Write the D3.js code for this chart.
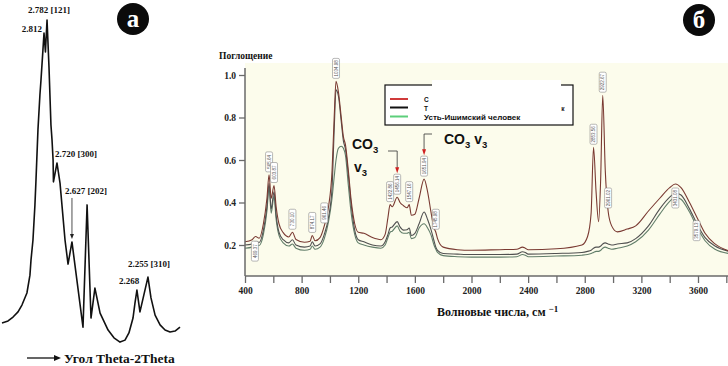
<!DOCTYPE html>
<html lang="ru">
<head>
<meta charset="UTF-8">
<title>XRD / IR</title>
<script src="https://cdn.jsdelivr.net/npm/d3@7/dist/d3.min.js"></script>
<style>
  body { margin: 0; background: #fff; }
  svg { display: block; }
  .serif { font-family: "Liberation Serif", "DejaVu Serif", serif; font-weight: bold; fill: #111; }
  .sans { font-family: "Liberation Sans", Arial, sans-serif; font-weight: bold; fill: #111; }
  .axis path, .axis line { stroke: #6a6a6a; stroke-width: 1.3; }
  .axis text { font-family: "Liberation Serif", serif; font-weight: bold; font-size: 9.5px; fill: #222; }
  .xrd-line { fill: none; stroke: #111; stroke-width: 1.6; stroke-linejoin: round; }
  .ir-line { fill: none; stroke-width: 1.1; }
  .pk-box { fill: #fff; stroke: #8a8a8a; stroke-width: 0.6; }
  .pk-text { font-family: "Liberation Sans", sans-serif; font-size: 4.5px; fill: #555; }
</style>
</head>
<body>
<svg width="728" height="366"></svg>
<script>
// panel a - XRD pattern (2theta, relative intensity)
var xrdTheta = [30.00, 30.34, 30.62, 30.90, 31.12, 31.40, 31.57, 31.63, 31.74, 31.85, 31.91, 32.02, 32.13, 32.19, 32.30,
  32.36, 32.44, 32.53, 32.64, 32.75, 32.81, 32.87, 32.89, 33.09, 33.26, 33.54, 33.71, 33.93, 34.55, 34.78, 35.00,
  35.22, 35.51, 35.96, 36.29, 36.63, 36.91, 37.13, 37.36, 37.47, 37.58, 37.75, 38.20, 38.37, 38.60, 38.88, 39.16,
  39.44, 39.72, 40.00];
var xrdIntensity = [6.8, 7.4, 8.6, 10.2, 12.3, 16.0, 21.5, 26.2, 32.3, 43.1, 50.8, 66.2, 76.9, 81.5, 90.8,
  96.0, 90.2, 100, 85.5, 67.7, 63.1, 56.9, 50.2, 56.0, 49.8, 32.3, 24.9, 31.7, 5.5, 43.1, 8.3,
  17.5, 9.8, 4.6, 2.2, 0.9, 1.5, 3.7, 8.3, 12.9, 16.9, 10.2, 20.9, 14.5, 9.2, 6.2, 4.6,
  4.0, 4.3, 5.5];
var xrdPeakTheta = [32.36, 32.53, 33.09, 33.93, 37.58, 38.20];
var xrdPeakLabels = ['2.812', '2.782 [121]', '2.720 [300]', '2.627 [202]', '2.268', '2.255 [310]'];

// panel b - IR spectra
var irWave = [400, 450, 475, 500, 530, 555, 570, 585, 605, 620, 640, 670, 710, 735, 760, 820, 860, 875, 895, 930,
  960, 990, 1015, 1030, 1043, 1060, 1080, 1095, 1110, 1130, 1150, 1175, 1200, 1240, 1300, 1360, 1390, 1410, 1425, 1440,
  1475, 1495, 1520, 1545, 1560, 1575, 1600, 1630, 1665, 1690, 1715, 1735, 1748, 1760, 1800, 1900, 2000, 2200, 2320, 2360,
  2380, 2400, 2600, 2780, 2820, 2845, 2862, 2880, 2898, 2912, 2927, 2945, 2965, 2990, 3030, 3100, 3160, 3250, 3330, 3400,
  3440, 3480, 3540, 3600, 3650, 3720, 3820];
var irModern = [.215, .225, .24, .232, .30, .42, .53, .42, .48, .38, .30, .258, .238, .26, .226, .213, .218, .245, .22, .235,
  .29, .38, .55, .80, .97, .92, .80, .71, .67, .55, .41, .30, .26, .255, .235, .225, .25, .33, .39, .38,
  .425, .40, .385, .375, .39, .34, .345, .42, .51, .45, .35, .28, .26, .23, .19, .178, .175, .178, .18, .19,
  .185, .178, .182, .20, .24, .35, .66, .45, .31, .50, .905, .55, .36, .29, .262, .275, .29, .36, .42, .47,
  .487, .47, .40, .32, .255, .205, .172];
var irTobolsk = [.20, .205, .215, .212, .27, .38, .49, .37, .45, .34, .26, .225, .21, .225, .20, .19, .195, .215, .195, .205,
  .25, .33, .47, .74, .93, .90, .78, .69, .65, .53, .39, .27, .225, .215, .20, .195, .215, .25, .28, .285,
  .31, .285, .27, .272, .28, .245, .255, .30, .355, .32, .27, .22, .19, .175, .16, .157, .155, .155, .157, .168,
  .165, .157, .16, .165, .17, .175, .185, .19, .19, .195, .205, .21, .205, .20, .205, .21, .23, .29, .37, .425,
  .445, .435, .37, .29, .235, .195, .17];
var irUstIshim = [.185, .19, .20, .198, .25, .36, .47, .35, .43, .32, .245, .21, .195, .205, .185, .175, .18, .195, .18, .19,
  .23, .31, .42, .52, .60, .655, .665, .655, .62, .48, .35, .25, .21, .20, .19, .185, .20, .235, .26, .265,
  .29, .265, .255, .255, .26, .23, .235, .28, .30, .28, .245, .20, .18, .165, .15, .145, .143, .143, .145, .155,
  .152, .145, .148, .152, .155, .16, .165, .17, .17, .175, .185, .19, .185, .18, .185, .195, .215, .27, .345, .405,
  .425, .415, .355, .275, .22, .18, .16];
var irXTicks = [400, 600, 800, 1000, 1200, 1400, 1600, 1800, 2000, 2200, 2400, 2600, 2800, 3000, 3200, 3400, 3600, 3800];
var irXLabels = [400, 800, 1200, 1600, 2000, 2400, 2800, 3200, 3600];
var irYTicks = [0.2, 0.4, 0.6, 0.8, 1.0];
var irPeakWave = [470, 570, 605, 735, 875, 960, 1043, 1425, 1475, 1560, 1665, 1748, 2862, 2927, 2965, 3440, 3590];
var irPeakText = ['469.37', '565.64', '603.87', '730.10', '874.17', '961.46', '1034.98', '1422.86', '1456.14',
  '1547.16', '1651.94', '1745.98', '2853.56', '2922.67', '2961.02', '3431.08', '3579.13'];
var irPeakBelow = [true, false, false, false, false, false, false, false, false,
  false, false, false, false, false, false, true, true];

var svg = d3.select('svg');

// ---------- panel a ----------
var ax = d3.scaleLinear().domain([30, 40]).range([2, 180]),
    ay = d3.scaleLinear().domain([0, 100]).range([345, 20]);

var gA = svg.append('g');
gA.append('path')
  .datum(d3.range(xrdTheta.length))
  .attr('class', 'xrd-line')
  .attr('d', d3.line().x(function(i) { return ax(xrdTheta[i]); }).y(function(i) { return ay(xrdIntensity[i]); }));

function xrdAt(t) {
  var i = d3.bisectLeft(xrdTheta, t);
  if (i <= 0) return xrdIntensity[0];
  var t0 = xrdTheta[i - 1], t1 = xrdTheta[i];
  return xrdIntensity[i - 1] + (xrdIntensity[i] - xrdIntensity[i - 1]) * (t - t0) / (t1 - t0);
}

// label offsets from each peak: dx, dy, anchor
var xrdLabelPos = [[-2, -1, 'end'], [2, -7, 'middle'], [-2, -6, 'start'], [-7, -48, 'start'], [-18, -6, 'start'], [-20, -10, 'start']];
xrdPeakTheta.forEach(function(t, i) {
  var px = ax(t), py = ay(xrdAt(t)), o = xrdLabelPos[i];
  gA.append('text').attr('class', 'serif')
    .attr('x', px + o[0]).attr('y', py + o[1])
    .attr('text-anchor', o[2])
    .style('font-size', '9px')
    .text(xrdPeakLabels[i]);
  if (i === 3) {
    gA.append('line').attr('x1', px).attr('x2', px).attr('y1', py - 44).attr('y2', py - 6)
      .attr('stroke', '#222').attr('stroke-width', 0.8);
    gA.append('path').attr('d', 'M' + (px - 2) + ',' + (py - 8) + 'L' + px + ',' + (py - 3) + 'L' + (px + 2) + ',' + (py - 8) + 'Z')
      .attr('fill', '#222');
  }
});

// axis caption
gA.append('line').attr('x1', 27).attr('x2', 55).attr('y1', 358).attr('y2', 358).attr('stroke', '#111').attr('stroke-width', 1.3);
gA.append('path').attr('d', 'M54,355L61,358L54,361Z').attr('fill', '#111');
gA.append('text').attr('class', 'serif').attr('x', 64).attr('y', 363).style('font-size', '13.5px').text('Угол Theta-2Theta');

// badge a
gA.append('circle').attr('cx', 133).attr('cy', 19).attr('r', 16).attr('fill', '#0b0b0b');
gA.append('text').attr('class', 'serif').attr('x', 133).attr('y', 27).attr('text-anchor', 'middle')
  .style('font-size', '25px').style('fill', '#fff').text('a');

// ---------- panel b ----------
var bx = d3.scaleLinear().domain([400, 3600]).range([245, 698]),
    by = d3.scaleLinear().domain([0.2, 1.0]).range([245, 75]);

var gB = svg.append('g');
gB.append('rect').attr('x', 245).attr('y', 63).attr('width', 483).attr('height', 213).attr('fill', '#fcfcec');

// badge b
gB.append('circle').attr('cx', 699).attr('cy', 20).attr('r', 16).attr('fill', '#0b0b0b');
gB.append('text').attr('class', 'serif').attr('x', 699).attr('y', 28).attr('text-anchor', 'middle')
  .style('font-size', '25px').style('fill', '#fff').text('б');

var series = [
  { values: irUstIshim, color: '#627e6a' },
  { values: irTobolsk, color: '#505050' },
  { values: irModern, color: '#7a3a32' }
];
var irLine = d3.line().curve(d3.curveMonotoneX);
series.forEach(function(s) {
  gB.append('path').attr('class', 'ir-line')
    .attr('stroke', s.color)
    .attr('d', irLine(irWave.map(function(w, i) { return [bx(w), by(s.values[i])]; })));
});

function irAt(vals, w) {
  var i = d3.bisectLeft(irWave, w);
  if (i <= 0) return vals[0];
  var w0 = irWave[i - 1], w1 = irWave[i];
  return vals[i - 1] + (vals[i] - vals[i - 1]) * (w - w0) / (w1 - w0);
}

// peak labels
var boxTop = {};
irPeakWave.forEach(function(w, i) {
  var px = bx(w), py = by(irAt(irModern, w));
  var top = irPeakBelow[i] ? py + 4 : py - 23;
  boxTop[w] = top;
  gB.append('rect').attr('class', 'pk-box')
    .attr('x', px - 3.5).attr('y', top).attr('width', 7).attr('height', 20).attr('rx', 1.5);
  gB.append('text').attr('class', 'pk-text')
    .attr('transform', 'translate(' + (px + 1.6) + ',' + (top + 10) + ') rotate(-90)')
    .attr('text-anchor', 'middle')
    .text(irPeakText[i]);
});

// axes
gB.append('line').attr('x1', 245).attr('x2', 245).attr('y1', 68).attr('y2', 276).attr('stroke', '#6a6a6a').attr('stroke-width', 1.5);
gB.append('line').attr('x1', 245).attr('x2', 728).attr('y1', 276).attr('y2', 276).attr('stroke', '#6a6a6a').attr('stroke-width', 1.5);

var yAxis = gB.append('g').attr('class', 'axis').attr('transform', 'translate(245,0)')
  .call(d3.axisLeft(by).tickValues(irYTicks).tickFormat(d3.format('.1f')).tickSize(6).tickPadding(3).tickSizeOuter(0));
yAxis.select('.domain').remove();

var xAxis = gB.append('g').attr('class', 'axis').attr('transform', 'translate(0,276)')
  .call(d3.axisBottom(bx).tickValues(irXTicks)
    .tickFormat(function(d) { return irXLabels.indexOf(d) >= 0 ? d : ''; })
    .tickSize(7).tickPadding(4).tickSizeOuter(0));
xAxis.select('.domain').remove();

gB.append('text').attr('class', 'serif').attr('x', 219).attr('y', 59).style('font-size', '9.5px').text('Поглощение');

var xt = gB.append('text').attr('class', 'serif').attr('x', 437).attr('y', 316).style('font-size', '12px');
xt.append('tspan').text('Волновые  числа, см ');
xt.append('tspan').attr('dy', -4).style('font-size', '9px').text('−1');

// CO3 annotations
function co3(x, y, withV) {
  var t = gB.append('text').attr('class', 'sans').attr('x', x).attr('y', y).style('font-size', '14px');
  t.append('tspan').text('CO');
  t.append('tspan').attr('dy', 4).style('font-size', '9.5px').text('3');
  if (withV) {
    t.append('tspan').attr('dy', -4).text(' v');
    t.append('tspan').attr('dy', 4).style('font-size', '9.5px').text('3');
  }
}
co3(352, 149, false);
var vt = gB.append('text').attr('class', 'sans').attr('x', 354).attr('y', 172).style('font-size', '14px');
vt.append('tspan').text('v');
vt.append('tspan').attr('dy', 4).style('font-size', '9.5px').text('3');
co3(444, 144, true);

function arrow(xFrom, yFrom, xTo, yTo) {
  gB.append('path').attr('d', 'M' + xFrom + ',' + yFrom + 'H' + xTo + 'V' + (yTo - 4))
    .attr('fill', 'none').attr('stroke', '#333').attr('stroke-width', 0.8);
  gB.append('path').attr('d', 'M' + (xTo - 2) + ',' + (yTo - 6) + 'L' + xTo + ',' + yTo + 'L' + (xTo + 2) + ',' + (yTo - 6) + 'Z')
    .attr('fill', '#d02020');
}
arrow(388, 151, bx(1475), boxTop[1475] - 1);
arrow(432, 134, bx(1665), boxTop[1665] - 1);

// legend
var lg = gB.append('g');
lg.append('rect').attr('x', 385).attr('y', 85).attr('width', 188).attr('height', 40)
  .attr('fill', '#fff').attr('stroke', '#111').attr('stroke-width', 1.2);
var legendColors = ['#d03a3a', '#111', '#5ccf7a'];
var legendRows = [99, 107.5, 116.5];
legendColors.forEach(function(c, i) {
  lg.append('line').attr('x1', 390).attr('x2', 408).attr('y1', legendRows[i]).attr('y2', legendRows[i])
    .attr('stroke', c).attr('stroke-width', 2);
});
lg.append('text').attr('class', 'sans').attr('x', 424).attr('y', 101.5).style('font-size', '6.5px').text('С');
lg.append('text').attr('class', 'sans').attr('x', 424).attr('y', 110.5).style('font-size', '6.5px').text('Т');
lg.append('text').attr('class', 'sans').attr('x', 424).attr('y', 120).style('font-size', '8px').text('Усть-Ишимский человек');
// white patch over the legend, as in the source image
lg.append('rect').attr('x', 432).attr('y', 80).attr('width', 129).attr('height', 34).attr('fill', '#fff');
lg.append('text').attr('class', 'sans').attr('x', 563).attr('y', 110.5).attr('text-anchor', 'middle').style('font-size', '6.5px').text('к');
</script>
</body>
</html>
